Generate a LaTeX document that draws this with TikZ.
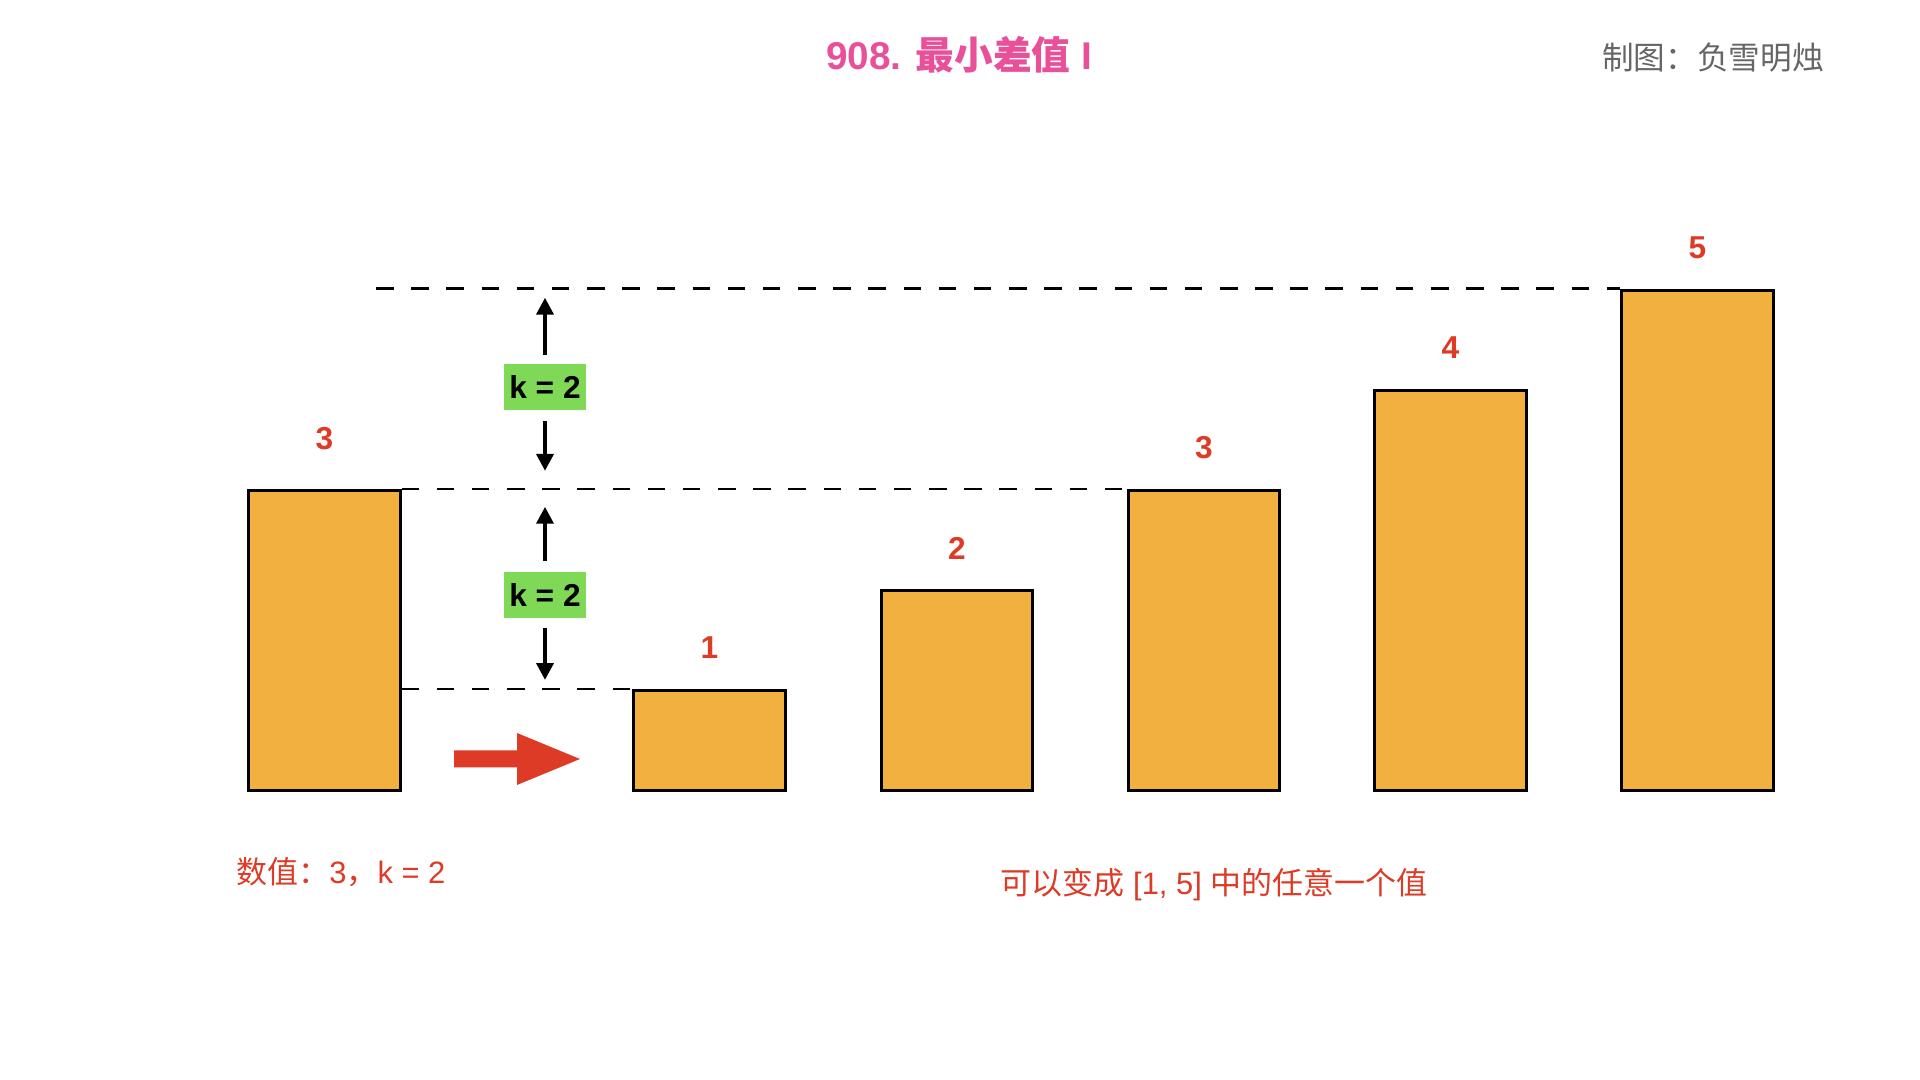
\documentclass[tikz,border=0pt]{standalone}
\usepackage{fontspec}
\setmainfont{Liberation Sans}
\newfontfamily\cjk{Noto Sans CJK SC}
\usetikzlibrary{arrows.meta}

\definecolor{titlepink}{HTML}{E8509A}
\definecolor{creditgray}{HTML}{666666}
\definecolor{valred}{HTML}{DD3B26}
\definecolor{barorange}{HTML}{F2B13F}
\definecolor{kgreen}{HTML}{7FD856}

\tikzset{
	bar/.style={draw=black,line width=0.85pt,fill=barorange,minimum width=1.51cm,inner sep=0pt,anchor=south},
	val/.style={text=valred,font=\bfseries\fontsize{9}{11}\selectfont},
	note/.style={text=valred,font=\fontsize{8.8}{10.5}\selectfont},
	guide/.style={line width=0.75pt,dash pattern=on 5pt off 5pt},
	kbox/.style={fill=kgreen,font=\bfseries\fontsize{9}{11}\selectfont,minimum width=0.81cm,minimum height=0.45cm,inner sep=0pt},
	karrow/.style={line width=1.1pt,-{Triangle[length=4.8pt,width=4.8pt]}}
}

\begin{document}
\begin{tikzpicture}[x=0.01cm,y=-0.01cm]
			\useasboundingbox (0,0) rectangle (1920,1080);

			\node[text=titlepink,font=\bfseries\fontsize{11}{13}\selectfont] (title) at (959,55) {908. {\cjk 最小差值} I};
			\node[text=creditgray,font=\fontsize{9}{11}\selectfont] (credit) at (1713,58) {\cjk 制图：负雪明烛};

			\node[bar,minimum height=3cm] (b0) at (324.5,792) {};
			\node[val] (v0) at (324.5,439) {3};
			\foreach \v/\x in {1/709.5,2/957,3/1204,4/1450.5,5/1697.5} {
				\node[bar,minimum height=\v cm] (b\v) at (\x,792) {};
				\node[val] (v\v) at (\x,{748-100*\v}) {\v};
			}

			\coordinate (topleft) at (376,0 |- b5.north west);
			\draw[guide] (topleft) -- (b5.north west);
			\draw[guide] (b0.north east) -- (b3.north west);
			\draw[guide] (b0.east |- b1.north) -- (b1.north west);

			\node[kbox] (k1) at (545,387) {k = 2};
			\node[kbox] (k2) at (545,595) {k = 2};
			\draw[karrow,shorten <=0.09cm,shorten >=0.09cm] (k1.north) -- (k1.north |- topleft);
			\draw[karrow,shorten <=0.11cm,shorten >=0.18cm] (k1.south) -- (k1.south |- b0.north east);
			\draw[karrow,shorten <=0.11cm,shorten >=0.18cm] (k2.north) -- (k2.north |- b0.north east);
			\draw[karrow,shorten <=0.10cm,shorten >=0.09cm] (k2.south) -- (k2.south |- b1.north);

			\fill[valred] (454,750.5) -- (517,750.5) -- (517,733) -- (580,759) -- (517,785) -- (517,767.5) -- (454,767.5) -- cycle;

			\node[note] (given) at (341,872) {{\cjk 数值：}3{\cjk ，}k = 2};
			\node[note] (range) at (1214,885) {{\cjk 可以变成} [1, 5] {\cjk 中的任意一个值}};
		\end{tikzpicture}
\end{document}
